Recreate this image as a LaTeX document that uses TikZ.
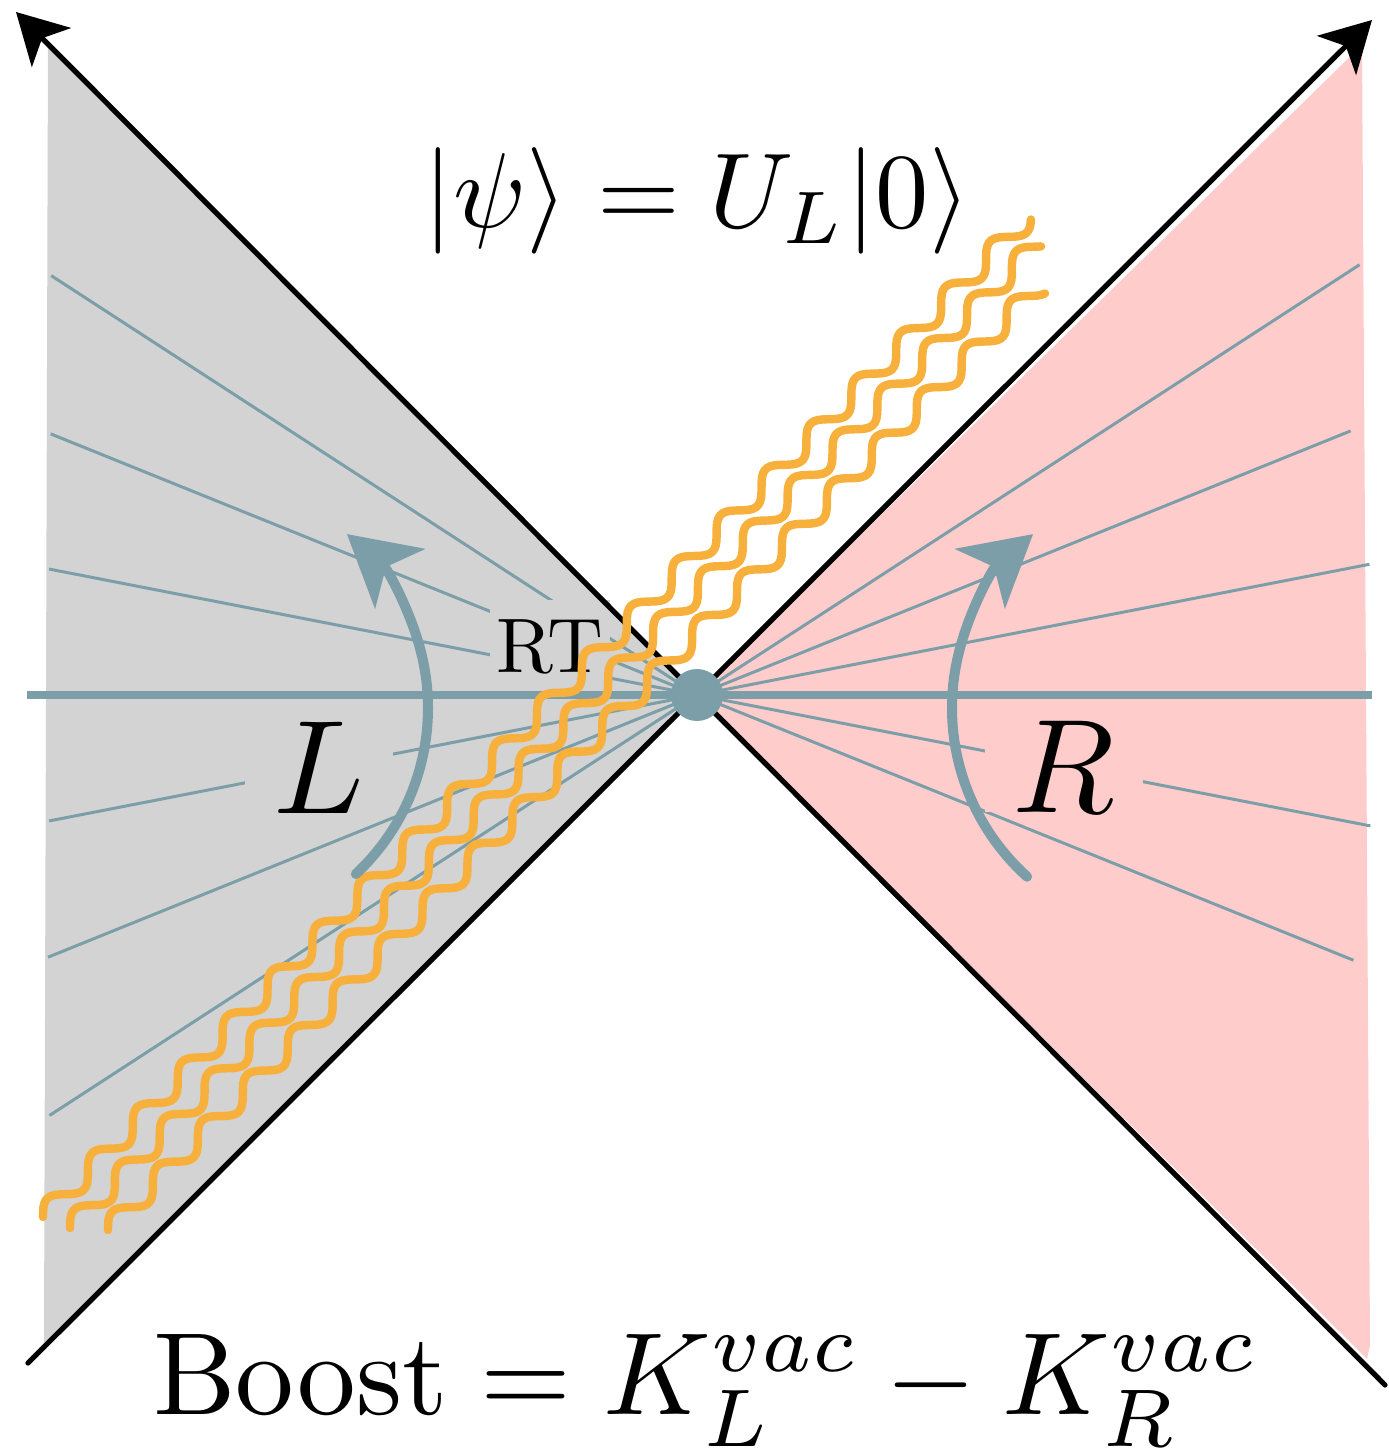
\documentclass[tikz,border=0pt]{standalone}
\usepackage{amsmath}
\usepackage{xcolor}
\usepackage{tikz}
\usetikzlibrary{arrows.meta}
\definecolor{rayblue}{RGB}{123,158,168}
\definecolor{wedgegray}{RGB}{211,211,211}
\definecolor{wedgepink}{RGB}{255,204,204}
\definecolor{quanta}{RGB}{248,176,60}

\begin{document}
\begin{tikzpicture}[
    ray/.style={rayblue,line width=0.85pt},
    cone/.style={black,line width=1.5pt,line cap=round,-{Stealth[length=5mm,width=5.5mm,inset=1.3mm]}},
    boostarrow/.style={rayblue,line width=2.85pt,line cap=round,-{Stealth[length=6.9mm,width=7.7mm,inset=1.8mm]}},
    wiggle/.style={quanta,line width=2.4pt,line cap=round,line join=round},
    wedgelabel/.style={scale=3.8,inner xsep=0.074cm,inner ysep=0pt,anchor=base}]
    \useasboundingbox (-6.97,-7.60) rectangle (6.92,6.95);
    \coordinate (O) at (0,0);
    \coordinate (pastL) at (-6.69,-6.68);
    \coordinate (futR) at (6.75,6.75);
    \coordinate (pastR) at (6.88,-6.90);
    \coordinate (futL) at (-6.81,6.83);
    
    % Rindler wedges
    \fill[wedgegray] (O) -- (-6.49,6.49) -- (-6.53,-6.50) -- cycle;
    \fill[wedgepink] (O) -- (6.65,6.50) -- (6.73,-6.50) -- (6.70,-6.64) -- cycle;
    
    \foreach \a/\r in {147/7.70,158/6.97,169/6.60,191/6.60,202/7.00,213/7.72,33/7.90,22/7.05,11/6.85,-11/6.86,-22/7.08}
        \draw[ray] (O) -- ++(\a:\r);
    
    \node[wedgelabel,fill=wedgegray] (Lname) at (-3.78,-1.18) {$L$};
    \node[wedgelabel,fill=wedgepink] (Rname) at (3.67,-1.17) {$R$};
    \node[anchor=base,fill=wedgegray,scale=2.2,inner xsep=0.03cm,inner ysep=0.09cm] (RT) at (-1.47,0.22) {RT};
    
    \draw[cone] (pastL) -- (futR);
    \draw[cone] (pastR) -- (futL);
    \draw[rayblue,line width=2.2pt] (-6.70,0) -- (6.75,0);
    
    % radiation crossing the horizon
    \foreach \sx/\sy/\ang/\len in {-6.54/-5.22/45.43/14.04,-6.27/-5.33/45.50/13.81,-5.89/-5.35/45.40/13.25}
        \draw[wiggle,shift={(\sx,\sy)},rotate=\ang] plot[domain=0:\len,samples=400] (\x,{0.1*sin(\x/0.64*360)});
    
    \draw[boostarrow] (-4.96,-0.13) ++(-47:2.27) arc[start angle=-47,end angle=50,radius=2.27];
    \draw[boostarrow] (4.82,-0.13) ++(228:2.27) arc[start angle=228,end angle=130,radius=2.27];
    
    \node[circle,fill=rayblue,inner sep=0pt,minimum size=0.52cm] (dot) at (O) {};
    
    \node[anchor=base,scale=3.03] (state) at (0,4.67) {$|\psi\rangle = U_L|0\rangle$};
    \node[anchor=base,scale=3.33] (boost) at (0.09,-7.19) {$\text{Boost} = K_L^{vac} - K_R^{vac}$};
\end{tikzpicture}
\end{document}
